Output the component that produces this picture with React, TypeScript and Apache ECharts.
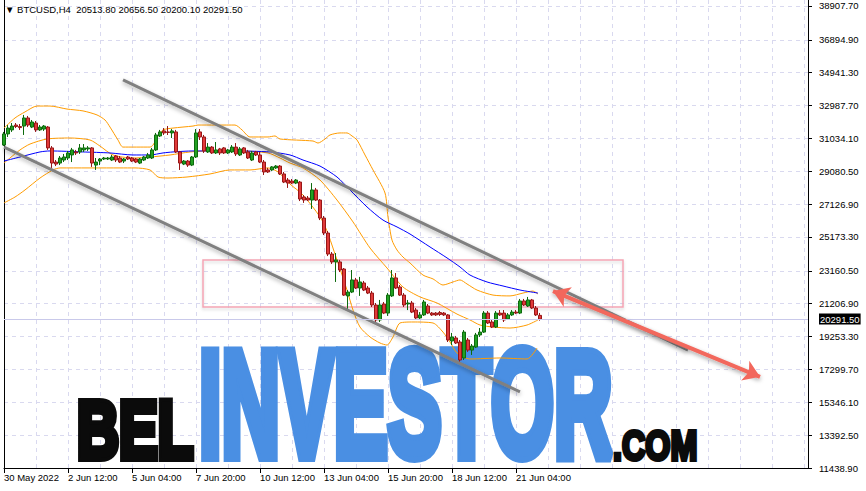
import React, { useEffect, useRef } from "react";
import * as echarts from "echarts";

// ---------- data ----------
const tickLabels = ["30 May 2022", "2 Jun 12:00", "5 Jun 04:00", "7 Jun 20:00", "10 Jun 12:00", "13 Jun 04:00", "15 Jun 20:00", "18 Jun 12:00", "21 Jun 04:00"];
const LABEL_STEP = 16;
const GRID_STEP = 8;
const SLOT_COUNT = 202;
const START_TIME = Date.UTC(2022, 4, 30, 20, 0);

const priceTicks = [11438.9, 13392.5, 15346.1, 17299.7, 19253.3, 21206.9, 23160.5, 25173.3, 27126.9, 29080.5, 31034.1, 32987.7, 34941.3, 36894.9, 38907.7];
const Y_MIN = 11438.9;
const Y_MAX = 39264.3;
const lastPrice = 20291.5;
const headerText = "▼ BTCUSD,H4  20513.80 20656.50 20200.10 20291.50";

const opens = [30640, 31300, 31540, 31830, 31740, 31770, 32250, 31710, 31950, 31540, 31590, 31710, 30470, 29630, 29570, 29750, 29870, 30050, 30230, 30230, 30350, 30410, 30470, 29450, 29690, 29810, 29810, 29750, 29990, 29870, 29690, 29930, 29870, 29810, 29570, 29750, 29870, 29870, 30350, 31180, 31480, 31420, 31360, 31420, 30230, 29510, 29690, 29450, 29930, 31420, 31120, 30230, 30520, 30170, 30410, 30470, 30170, 30230, 30520, 30050, 30470, 30230, 29750, 30230, 30050, 29630, 29160, 29160, 29280, 29390, 28920, 28560, 28500, 28380, 28440, 27550, 27490, 27370, 27970, 27370, 26300, 25410, 24160, 23690, 23690, 23270, 21670, 21900, 22620, 22140, 22440, 22140, 21840, 21130, 20240, 21190, 20650, 21670, 22740, 22200, 21720, 21190, 21250, 20830, 20360, 20540, 21070, 20650, 20650, 20680, 20650, 20540, 18990, 19170, 18930, 17980, 19050, 18450, 18630, 19350, 19520, 20650, 20120, 19820, 20650, 20650, 20300, 20540, 20710, 20650, 21370, 21070, 21430, 20950, 20513.8];
const closes = [31300, 31650, 31770, 31740, 31680, 32250, 31830, 32010, 31540, 31710, 31770, 30470, 29570, 29510, 29870, 29930, 30170, 30350, 30170, 30470, 30470, 30470, 29570, 29630, 29810, 29870, 29870, 29930, 29750, 29630, 29810, 29810, 29690, 29630, 29810, 29930, 30050, 30350, 31240, 31420, 31360, 31390, 31480, 30230, 29570, 29690, 29450, 29930, 31360, 31120, 30290, 30520, 30170, 30350, 30170, 30170, 30350, 30520, 30110, 30410, 30170, 29870, 30170, 30050, 29630, 29040, 29040, 29340, 29390, 28920, 28440, 28380, 28380, 28560, 27430, 27370, 27370, 27970, 27370, 26300, 25410, 24160, 23690, 23810, 23210, 21720, 21900, 22620, 22140, 22500, 22020, 21840, 21130, 20240, 21130, 20650, 21720, 22740, 22140, 21720, 21130, 21250, 20710, 20360, 20540, 21310, 20650, 20540, 20540, 20570, 20540, 19050, 19230, 18870, 17860, 19520, 18450, 18690, 19350, 19520, 20650, 20060, 19820, 20650, 20540, 20240, 20540, 20710, 20650, 21370, 21130, 21430, 20950, 20540, 20291.5];
const highs = [31420, 31830, 31950, 31950, 31890, 32430, 32370, 32130, 32070, 31830, 31830, 31770, 30580, 29750, 29990, 30110, 30290, 30470, 30350, 30700, 30700, 30580, 30520, 29870, 29870, 29930, 29930, 30050, 30050, 29990, 29870, 29990, 29930, 29870, 29870, 29990, 30170, 30470, 31360, 31540, 31650, 31770, 31590, 31540, 30290, 29750, 29750, 29990, 31590, 31590, 31240, 30760, 30580, 30820, 30470, 30520, 30410, 30640, 30760, 30520, 30520, 30350, 30290, 30290, 30230, 29750, 29280, 29390, 29450, 29450, 29040, 28680, 28620, 28620, 28500, 27670, 27610, 28380, 28090, 27430, 26420, 25530, 24280, 24220, 23810, 23330, 22020, 23210, 22740, 22800, 22560, 22260, 21960, 21250, 21430, 21310, 21840, 23210, 23030, 22320, 21840, 21430, 21370, 20950, 20710, 21430, 21190, 20710, 20710, 20770, 20710, 20590, 19470, 19290, 19050, 19640, 19170, 18810, 19470, 19760, 20770, 20770, 20240, 20770, 20830, 20830, 20650, 20830, 20830, 21490, 21490, 21610, 21490, 21070, 20656.5];
const lows = [30580, 31120, 31420, 31650, 31540, 31240, 31710, 31650, 31420, 31480, 31480, 30350, 29280, 29390, 29450, 29630, 29750, 29630, 30050, 30110, 30230, 30290, 29340, 29160, 29450, 29750, 29750, 29690, 29630, 29570, 29570, 29750, 29630, 29570, 29510, 29690, 29810, 29810, 30290, 31120, 31240, 31240, 31060, 30170, 29160, 29450, 29340, 29390, 29870, 30940, 30170, 30170, 30110, 30110, 30050, 30110, 30110, 30170, 29990, 29990, 30110, 29810, 29690, 29990, 29570, 28860, 28980, 29100, 29220, 28860, 28380, 28090, 28320, 28320, 27310, 27200, 27310, 26840, 27310, 26180, 25290, 24040, 23570, 22500, 23090, 21670, 20830, 21840, 22080, 21670, 21960, 21780, 21010, 20120, 20120, 20590, 20480, 21610, 22080, 21670, 21010, 20830, 20650, 20300, 20240, 20480, 20590, 20480, 20480, 20480, 20480, 18930, 18750, 18810, 17680, 17860, 18340, 18160, 18570, 19230, 19470, 20000, 19760, 19760, 20480, 20120, 20240, 20480, 20590, 20590, 21070, 21010, 20890, 20480, 20200.1];

// Bollinger bands & moving average as [bar index, price]
const upperBand = [[0, 31650], [2.75, 32250], [5.25, 32610], [8.25, 32960], [11.5, 32960], [15.75, 32780], [19.75, 32670], [23.25, 32430], [25.25, 32130], [26.5, 31710], [28.5, 30940], [29.75, 30520], [36.5, 30520], [37.25, 30640], [38.5, 31180], [39.75, 31540], [42.25, 31650], [47.25, 31770], [48.5, 31830], [57.75, 31830], [59.5, 31540], [61.5, 31120], [66, 31120], [67.75, 31180], [69, 31000], [77.25, 30880], [78.5, 30760], [80.25, 31000], [81.5, 31240], [84, 31360], [85.75, 31360], [87, 31180], [88.25, 30940], [90.25, 30050], [92.25, 29160], [95.25, 27790], [96, 26360], [97, 24990], [98.25, 24400], [99.75, 23980], [101.5, 23630], [104.75, 22910], [107.25, 22680], [109.75, 22320], [112.25, 22500], [114, 22620], [115.75, 22380], [118.25, 22020], [122.25, 21720], [126.5, 21670], [129.75, 21840], [132.25, 21960], [133.5, 21780]];
const middleBand = [[0, 29570], [1.5, 29870], [4, 30350], [6.5, 30700], [10.75, 31000], [16.5, 31060], [21.5, 30940], [24, 30580], [27.25, 30050], [32.25, 29870], [36.5, 29930], [41.5, 30050], [46.5, 30230], [51.5, 30290], [59, 30290], [66, 30170], [69, 29870], [71.5, 29570], [74.75, 29280], [79, 28560], [83.25, 27370], [87.25, 26070], [91.5, 24520], [95.75, 23330], [99.75, 22200], [104, 21610], [108.25, 21250], [113.25, 20590], [116.5, 20240], [119, 19940], [122.25, 19820], [126.5, 19760], [130.75, 19940], [133.5, 20240]];
const lowerBand = [[0, 27200], [2.75, 27550], [5.25, 27970], [9, 28680], [12.25, 29160], [14, 29280], [29, 29280], [32.75, 29280], [36.5, 29160], [38.5, 28740], [41, 28680], [45.75, 28740], [51.5, 28920], [56.5, 29160], [61.5, 29160], [66, 29280], [68.5, 29040], [71.5, 28320], [74.75, 27670], [79.75, 26070], [83.25, 23810], [85.75, 22020], [87.25, 20830], [89, 19820], [91.5, 19230], [94, 18870], [95.75, 18750], [97.25, 19230], [99, 20060], [102.25, 20120], [107.25, 20060], [109.75, 19520], [111.5, 18930], [113.25, 18280], [116.5, 17920], [124, 17980], [130.75, 17920], [133.25, 18570]];
const maLine = [[0, 29690], [4, 29930], [9, 30230], [11.5, 30290], [19.75, 30230], [26.5, 30170], [32.25, 30050], [36.5, 30050], [39.75, 30170], [42.25, 30230], [47.25, 30290], [57.25, 30290], [66.5, 30230], [71.5, 30050], [74.75, 29750], [79, 29390], [83.25, 28740], [86.5, 27970], [90.75, 26960], [94.75, 26180], [98.25, 25770], [101.5, 25350], [106.5, 24580], [110.75, 23930], [114, 23390], [116.5, 22910], [120.75, 22500], [124.75, 22260], [129, 22020], [133.5, 21840]];

// drawings: [bar index, price]
const channelUpper = [[29.75, 34510], [171, 18450]];
const channelLower = [[0, 30520], [129, 15960]];
const zoneBox = [[49.75, 23810], [154.75, 21010]];
const arrowLine = [[137.25, 21960], [189, 16860]];

// watermark
const wmLeft = "BEL";
const wmMiddle = "INVESTOR";
const wmRight = ".COM";

// ---------- helpers ----------
const pad = (n: number) => (n < 10 ? "0" + n : "" + n);
const MONTHS = ["Jan", "Feb", "Mar", "Apr", "May", "Jun", "Jul", "Aug", "Sep", "Oct", "Nov", "Dec"];
const categories = Array.from({ length: SLOT_COUNT }, (_, i) => {
  const d = new Date(START_TIME + i * 4 * 3600 * 1000);
  return `${d.getUTCDate()} ${MONTHS[d.getUTCMonth()]} ${pad(d.getUTCHours())}:00`;
});
const candleData = opens.map((o, i) => [o, closes[i], lows[i], highs[i]]);

const FONT = "Liberation Sans";
const GRID_COLOR = "#d9d9ef";
const ORANGE = "#ff9c00";
const BLUE_WM = "#4a8fe3";

const isLabelIdx = (i: number) => i % LABEL_STEP === 0 && i / LABEL_STEP < tickLabels.length;

const wmShadow = { shadowColor: "rgba(0,0,0,0.35)", shadowBlur: 6, shadowOffsetX: 2, shadowOffsetY: 3 };

// per-letter layout of the big blue word (Arial-bold advance widths, em units)
const letterEm: Record<string, number> = { I: 0.278, N: 0.722, V: 0.667, E: 0.667, S: 0.667, T: 0.611, O: 0.778, R: 0.722 };
const MID_FS = 150;
const MID_SCALE = 0.539;
const midLetters: any[] = [];
{
  let x = 199;
  for (const ch of wmMiddle.split("")) {
    midLetters.push({
      type: "text",
      x,
      y: 404,
      scaleX: MID_SCALE,
      z: 1,
      silent: true,
      style: {
        text: ch,
        fill: BLUE_WM,
        stroke: BLUE_WM,
        lineWidth: 12,
        font: `bold ${MID_FS}px "${FONT}"`,
        verticalAlign: "middle",
        align: "left",
        ...wmShadow,
      },
    });
    x += letterEm[ch] * MID_FS * MID_SCALE;
  }
}

const option: any = {
  animation: false,
  backgroundColor: "#ffffff",
  grid: { left: 4, right: 58, top: 0, bottom: 23 },
  xAxis: [
    {
      type: "category",
      data: categories,
      boundaryGap: false,
      axisLine: { show: true, onZero: false, lineStyle: { color: "#000", width: 1 } },
      axisTick: { show: true, length: 5, interval: (i: number) => isLabelIdx(i), lineStyle: { color: "#000" } },
      axisLabel: {
        show: true,
        interval: (i: number) => isLabelIdx(i),
        formatter: (_v: string, i: number) => tickLabels[i / LABEL_STEP] ?? "",
        align: "left",
        margin: 4,
        color: "#000",
        fontSize: 9.5,
        fontFamily: FONT,
      },
      splitLine: { show: true, interval: (i: number) => i % GRID_STEP === 0, lineStyle: { color: GRID_COLOR, type: [4, 4], width: 1 } },
    },
    { type: "value", min: 0, max: SLOT_COUNT - 1, show: false },
  ],
  yAxis: [
    {
      type: "value",
      position: "right",
      min: Y_MIN,
      max: Y_MAX,
      axisLine: { show: true, onZero: false, lineStyle: { color: "#000", width: 1 } },
      axisTick: { show: true, customValues: priceTicks, length: 4, lineStyle: { color: "#000" } },
      axisLabel: { show: true, customValues: priceTicks, formatter: (v: number) => v.toFixed(2), margin: 11, color: "#000", fontSize: 9.5, fontFamily: FONT },
      splitLine: { show: true, lineStyle: { color: GRID_COLOR, type: [4, 4], width: 1 } },
    },
    {
      type: "value",
      position: "left",
      min: Y_MIN,
      max: Y_MAX,
      axisLine: { show: true, onZero: false, lineStyle: { color: "#000", width: 1 } },
      axisTick: { show: false },
      axisLabel: { show: false },
      splitLine: { show: false },
    },
  ],
  series: [
    {
      type: "candlestick",
      xAxisIndex: 0,
      yAxisIndex: 0,
      z: 3,
      data: candleData,
      barWidth: 3,
      itemStyle: { color: "#22a022", color0: "#e03a3a", borderColor: "#0d6a0d", borderColor0: "#971616", borderWidth: 1 },
      markLine: {
        silent: true,
        symbol: "none",
        data: [{ yAxis: lastPrice }],
        lineStyle: { color: "#c9c9ea", width: 1, type: "solid" },
        label: {
          show: true,
          position: "end",
          distance: 11,
          formatter: () => lastPrice.toFixed(2),
          color: "#fff",
          backgroundColor: "#000",
          padding: [1, 1, 0, 1],
          fontSize: 9.5,
          fontFamily: FONT,
        },
      },
    },
    { type: "line", xAxisIndex: 1, yAxisIndex: 0, z: 3, data: upperBand, showSymbol: false, symbol: "none", smooth: 0.25, lineStyle: { color: ORANGE, width: 1 } },
    { type: "line", xAxisIndex: 1, yAxisIndex: 0, z: 3, data: middleBand, showSymbol: false, symbol: "none", smooth: 0.25, lineStyle: { color: ORANGE, width: 1 } },
    { type: "line", xAxisIndex: 1, yAxisIndex: 0, z: 3, data: lowerBand, showSymbol: false, symbol: "none", smooth: 0.25, lineStyle: { color: ORANGE, width: 1 } },
    { type: "line", xAxisIndex: 1, yAxisIndex: 0, z: 3, data: maLine, showSymbol: false, symbol: "none", smooth: 0.25, lineStyle: { color: "#0000ff", width: 1 } },
    {
      type: "line",
      xAxisIndex: 1,
      yAxisIndex: 0,
      z: 4,
      data: channelUpper,
      showSymbol: false,
      symbol: "none",
      lineStyle: { color: "#808080", width: 3, shadowColor: "rgba(0,0,0,0.3)", shadowBlur: 4, shadowOffsetY: 2 },
      markArea: {
        silent: true,
        itemStyle: { color: "rgba(255,255,255,0)", borderColor: "#f5a4b4", borderWidth: 1.5, shadowColor: "rgba(0,0,0,0.15)", shadowBlur: 3, shadowOffsetY: 2 },
        data: [[{ coord: zoneBox[0] }, { coord: zoneBox[1] }]],
      },
      markLine: {
        silent: true,
        symbol: ["arrow", "arrow"],
        symbolSize: 16,
        label: { show: false },
        lineStyle: { color: "#f2675c", width: 4, type: "solid", shadowColor: "rgba(0,0,0,0.35)", shadowBlur: 4, shadowOffsetY: 2 },
        data: [[{ coord: arrowLine[0] }, { coord: arrowLine[1] }]],
      },
    },
    {
      type: "line",
      xAxisIndex: 1,
      yAxisIndex: 0,
      z: 4,
      data: channelLower,
      showSymbol: false,
      symbol: "none",
      lineStyle: { color: "#808080", width: 3, shadowColor: "rgba(0,0,0,0.3)", shadowBlur: 4, shadowOffsetY: 2 },
    },
  ],
  graphic: [
    { type: "text", left: 5, top: 4, z: 100, style: { text: headerText, fill: "#000", font: `9.5px "${FONT}"` } },
    {
      type: "text",
      x: 77,
      y: 430,
      scaleX: 0.71,
      z: 1,
      silent: true,
      style: {
        text: wmLeft,
        fill: "#0b0b0b",
        stroke: "#0b0b0b",
        lineWidth: 8,
        font: `bold 82px "${FONT}"`,
        verticalAlign: "middle",
        align: "left",
        ...wmShadow,
      },
    },
    ...midLetters,
    {
      type: "text",
      x: 613,
      y: 445,
      scaleX: 0.77,
      z: 1,
      silent: true,
      style: {
        text: wmRight,
        fill: "#0b0b0b",
        stroke: "#0b0b0b",
        lineWidth: 4,
        font: `bold 42px "${FONT}"`,
        verticalAlign: "middle",
        align: "left",
        shadowColor: "rgba(0,0,0,0.35)",
        shadowBlur: 4,
        shadowOffsetX: 1,
        shadowOffsetY: 2,
      },
    },
  ],
};

export default function App() {
  const ref = useRef<HTMLDivElement>(null);
  useEffect(() => {
    document.body.style.margin = "0";
    const chart = echarts.init(ref.current as HTMLDivElement, null, { renderer: "svg" });
    chart.setOption(option);
    return () => chart.dispose();
  }, []);
  return <div ref={ref} style={{ width: 866, height: 491 }} />;
}
